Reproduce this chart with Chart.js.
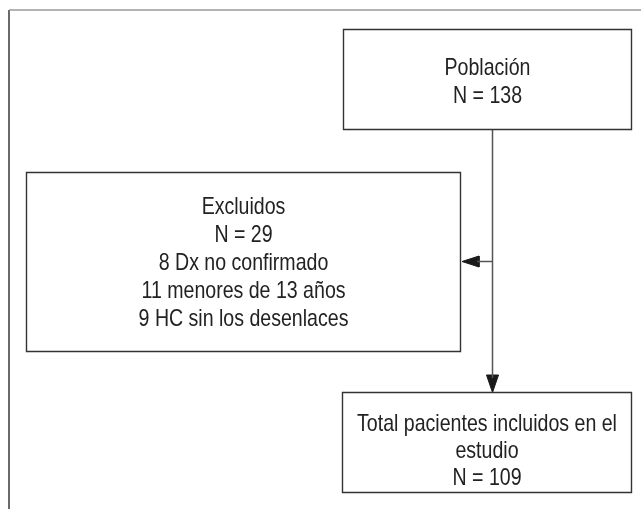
<!DOCTYPE html>
<html>
<head>
<meta charset="utf-8">
<script src="https://cdn.jsdelivr.net/npm/chart.js@4.4.1/dist/chart.umd.min.js"></script>
<style>
  html, body { margin: 0; padding: 0; background: #ffffff; }
  canvas { display: block; }
</style>
</head>
<body>
<canvas id="c" width="641" height="509"></canvas>
<script>
// ---- data (text and counts) ----
const boxTitles = [['Población'], ['Excluidos'], ['Total pacientes incluidos en el', 'estudio']];
const boxCounts = [138, 29, 109];
const exclusionCounts = [8, 11, 9];
const exclusionReasons = ['Dx no confirmado', 'menores de 13 años', 'HC sin los desenlaces'];

// ---- layout (diagram geometry in scale units, separate from data) ----
const boxRects = [
  { x0: 343.5, y0: 29.5, x1: 631.5, y1: 129.5, baseline: 75, lineGap: 28.3 },
  { x0: 26.5, y0: 172.5, x1: 460.5, y1: 351.5, baseline: 214, lineGap: 28.1 },
  { x0: 342.5, y0: 392.5, x1: 631.5, y1: 492.5, baseline: 430.5, lineGap: 27 }
];
const trunkX = 492.5;
const branchY = 261.5;

function rectPoints(r) {
  return [
    { x: r.x0, y: r.y0 }, { x: r.x1, y: r.y0 }, { x: r.x1, y: r.y1 },
    { x: r.x0, y: r.y1 }, { x: r.x0, y: r.y0 }
  ];
}

function boxLines(i) {
  const lines = boxTitles[i].slice();
  lines.push('N = ' + boxCounts[i]);
  if (i === 1) {
    exclusionCounts.forEach((c, k) => lines.push(c + ' ' + exclusionReasons[k]));
  }
  return lines;
}

const lineDefaults = { showLine: true, pointRadius: 0, fill: false, borderCapStyle: 'square', borderJoinStyle: 'miter', tension: 0 };

const datasets = [
  Object.assign({}, lineDefaults, { data: [{ x: 9, y: 10 }, { x: 641, y: 10 }], borderColor: '#9a9a9a', borderWidth: 1.5, borderCapStyle: 'butt' }),
  Object.assign({}, lineDefaults, { data: [{ x: 9, y: 10 }, { x: 9, y: 509 }], borderColor: '#3a3a3a', borderWidth: 1.5, borderCapStyle: 'butt' }),
  ...boxRects.map(r => Object.assign({}, lineDefaults, { data: rectPoints(r), borderColor: '#333333', borderWidth: 1.4 })),
  // connectors
  Object.assign({}, lineDefaults, { data: [{ x: trunkX, y: boxRects[0].y1 }, { x: trunkX, y: 378 }], borderColor: '#555555', borderWidth: 1.5, borderCapStyle: 'butt' }),
  Object.assign({}, lineDefaults, { data: [{ x: trunkX, y: branchY }, { x: 477, y: branchY }], borderColor: '#555555', borderWidth: 1.5, borderCapStyle: 'butt' }),
  // arrowheads
  Object.assign({}, lineDefaults, { data: [{ x: trunkX - 6, y: 375 }, { x: trunkX + 6, y: 375 }, { x: trunkX, y: boxRects[2].y0 }, { x: trunkX - 6, y: 375 }], borderColor: '#1a1a1a', backgroundColor: '#1a1a1a', borderWidth: 1, fill: 'shape', borderCapStyle: 'butt' }),
  Object.assign({}, lineDefaults, { data: [{ x: 479, y: branchY - 5.5 }, { x: 479, y: branchY + 5.5 }, { x: boxRects[1].x1 + 1.5, y: branchY }, { x: 479, y: branchY - 5.5 }], borderColor: '#1a1a1a', backgroundColor: '#1a1a1a', borderWidth: 1, fill: 'shape', borderCapStyle: 'butt' })
];

const textPlugin = {
  id: 'boxText',
  afterDatasetsDraw(chart) {
    const ctx = chart.ctx;
    const xs = chart.scales.x, ys = chart.scales.y;
    ctx.save();
    ctx.fillStyle = '#222222';
    ctx.font = '24px "Liberation Sans", Arial, sans-serif';
    ctx.textAlign = 'center';
    ctx.textBaseline = 'alphabetic';
    boxRects.forEach((r, i) => {
      const cx = xs.getPixelForValue((r.x0 + r.x1) / 2);
      boxLines(i).forEach((t, k) => {
        const py = ys.getPixelForValue(r.baseline + k * r.lineGap);
        ctx.save();
        ctx.translate(cx, py);
        ctx.scale(0.815, 1);
        ctx.fillText(t, 0, 0);
        ctx.restore();
      });
    });
    ctx.restore();
  }
};

new Chart(document.getElementById('c'), {
  type: 'scatter',
  data: { datasets },
  options: {
    responsive: false,
    animation: false,
    events: [],
    layout: { padding: 0 },
    plugins: { legend: { display: false }, tooltip: { enabled: false } },
    scales: {
      x: { type: 'linear', min: 0, max: 641, display: false },
      y: { type: 'linear', min: 0, max: 509, reverse: true, display: false }
    }
  },
  plugins: [textPlugin]
});
</script>
</body>
</html>
